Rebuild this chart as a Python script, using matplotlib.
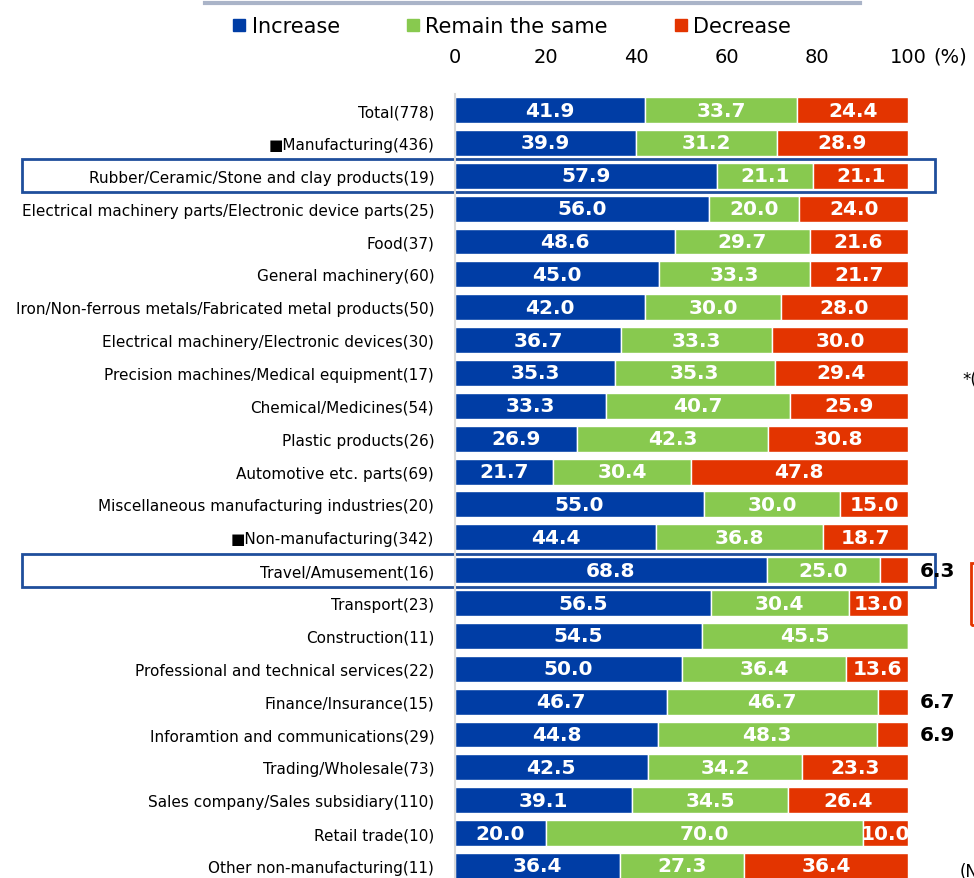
import matplotlib.pyplot as plt
from matplotlib.patches import Rectangle
from matplotlib.lines import Line2D

# categories and shares (%)
categories = [
    "Total(778)", "\u25a0Manufacturing(436)",
    "Rubber/Ceramic/Stone and clay products(19)",
    "Electrical machinery parts/Electronic device parts(25)",
    "Food(37)", "General machinery(60)",
    "Iron/Non-ferrous metals/Fabricated metal products(50)",
    "Electrical machinery/Electronic devices(30)",
    "Precision machines/Medical equipment(17)",
    "Chemical/Medicines(54)", "Plastic products(26)",
    "Automotive etc. parts(69)", "Miscellaneous manufacturing industries(20)",
    "\u25a0Non-manufacturing(342)", "Travel/Amusement(16)", "Transport(23)",
    "Construction(11)", "Professional and technical services(22)",
    "Finance/Insurance(15)", "Inforamtion and communications(29)",
    "Trading/Wholesale(73)", "Sales company/Sales subsidiary(110)",
    "Retail trade(10)", "Other non-manufacturing(11)",
]
increase = [41.9, 39.9, 57.9, 56.0, 48.6, 45.0, 42.0, 36.7, 35.3, 33.3, 26.9, 21.7,
            55.0, 44.4, 68.8, 56.5, 54.5, 50.0, 46.7, 44.8, 42.5, 39.1, 20.0, 36.4]
same = [33.7, 31.2, 21.1, 20.0, 29.7, 33.3, 30.0, 33.3, 35.3, 40.7, 42.3, 30.4,
        30.0, 36.8, 25.0, 30.4, 45.5, 36.4, 46.7, 48.3, 34.2, 34.5, 70.0, 27.3]
decrease = [24.4, 28.9, 21.1, 24.0, 21.6, 21.7, 28.0, 30.0, 29.4, 25.9, 30.8, 47.8,
            15.0, 18.7, 6.3, 13.0, 0.0, 13.6, 6.7, 6.9, 23.3, 26.4, 10.0, 36.4]
highlighted = ["Rubber/Ceramic/Stone and clay products(19)", "Travel/Amusement(16)"]

BLUE = "#003da5"
GREEN = "#88c94f"
RED = "#e33400"


def main():
    fig = plt.figure(figsize=(9.74, 8.79), dpi=100)
    ax = fig.add_axes([455 / 974, -0.005, 453 / 974, 0.8974])

    y = list(range(len(categories)))
    h = 0.79
    left2 = [a + b for a, b in zip(increase, same)]
    ax.barh(y, increase, height=h, color=BLUE, edgecolor="white", linewidth=1)
    ax.barh(y, same, left=increase, height=h, color=GREEN, edgecolor="white", linewidth=1)
    ax.barh(y, decrease, left=left2, height=h, color=RED, edgecolor="white", linewidth=1)

    # value labels
    lab = dict(color="white", fontsize=14.5, fontweight="bold", ha="center", va="center")
    for i in y:
        ax.text(increase[i] / 2, i, f"{increase[i]:.1f}", **lab)
        if same[i] > 0:
            ax.text(increase[i] + same[i] / 2, i, f"{same[i]:.1f}", **lab)
        if decrease[i] >= 10:
            ax.text(left2[i] + decrease[i] / 2, i, f"{decrease[i]:.1f}", **lab)
        elif decrease[i] > 0:
            ax.text(102.5, i, f"{decrease[i]:.1f}", color="black", fontsize=14.5,
                    fontweight="bold", ha="left", va="center", clip_on=False)

    ax.set_xlim(0, 100)
    ax.set_ylim(len(categories) - 0.5, -0.5)
    ax.set_yticks(y)
    ax.set_yticklabels(categories, fontsize=11)
    ax.tick_params(axis="y", length=0, pad=15)
    ax.xaxis.tick_top()
    ax.set_xticks([0, 20, 40, 60, 80, 100])
    ax.set_xticklabels(["0", "20", "40", "60", "80", "100"], fontsize=14)
    ax.tick_params(axis="x", length=0, pad=20)
    for s in ["top", "right", "bottom"]:
        ax.spines[s].set_visible(False)
    ax.spines["left"].set_color("#d9d9d9")
    ax.spines["left"].set_linewidth(1.5)
    fig.text(950 / 974, 1 - 57 / 879, "(%)", fontsize=14, ha="center", va="center")

    # boxes around highlighted rows
    trans = ax.get_yaxis_transform()
    for name in highlighted:
        i = categories.index(name)
        x0 = (22 - 455) / 453
        w = (935 - 22) / 453
        ax.add_patch(Rectangle((x0, i - 0.5), w, 1.0, transform=trans, fill=False,
                               edgecolor="#1f4e9c", linewidth=2, clip_on=False))

    # legend
    handles = [Line2D([], [], marker="s", linestyle="", color=c, markersize=8)
               for c in (BLUE, GREEN, RED)]
    fig.legend(handles, ["Increase", "Remain the same", "Decrease"], loc="center",
               bbox_to_anchor=(512 / 974, 1 - 27 / 879), ncol=3, frameon=False,
               fontsize=15, handlelength=0.6, handletextpad=0.3, columnspacing=3.2)

    # top rule
    fig.add_artist(Line2D([205 / 974, 860 / 974], [1 - 4 / 879, 1 - 4 / 879],
                          color="#aab4c8", linewidth=3))

    # cut-off elements at the right edge, as in the source
    fig.text(962 / 974, 1 - 380 / 879, "*(", fontsize=12, va="center")
    fig.text(960 / 974, 1 - 872 / 879, "(N", fontsize=12, va="center")
    fig.add_artist(Rectangle((971 / 974, 1 - 626 / 879), 20 / 974, 62 / 879,
                             fill=False, edgecolor=RED, linewidth=2))

    fig.savefig("out.png", dpi=100)


if __name__ == "__main__":
    main()
